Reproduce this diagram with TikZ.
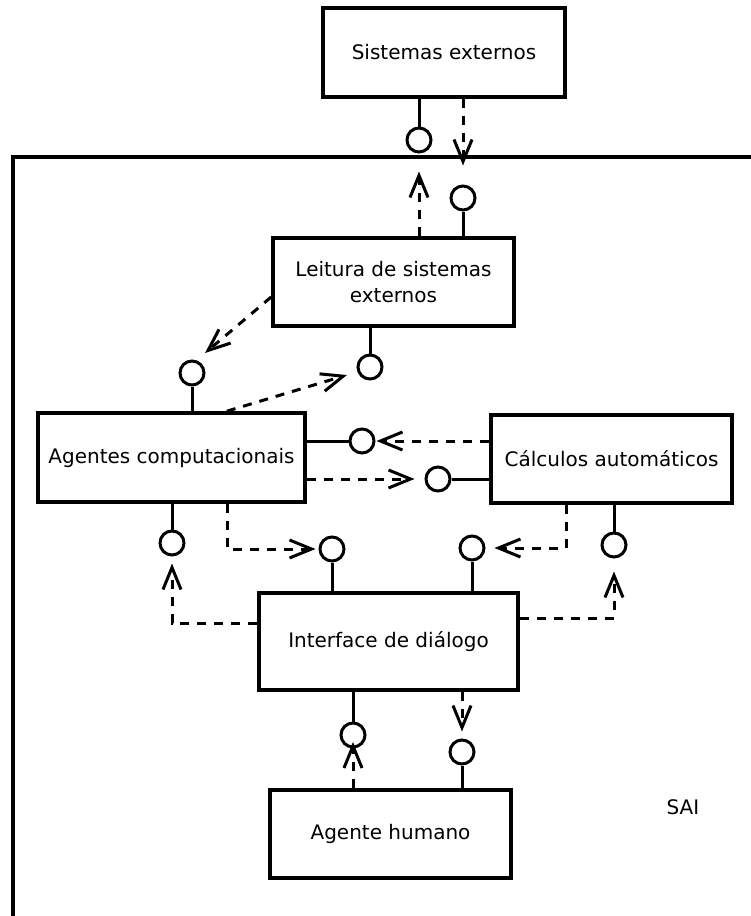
\documentclass[tikz,border=0pt]{standalone}
\usepackage{fontspec}
\setmainfont{DejaVu Sans}
\usetikzlibrary{arrows.meta}
\begin{document}
\begin{tikzpicture}[x=1pt,y=-1pt,
  box/.style={draw,line width=3.6pt,rectangle,align=center,inner sep=0pt,font=\fontsize{20}{26}\selectfont},
  lolli/.style={draw,circle,line width=3pt,minimum size=24pt,inner sep=0pt},
  conn/.style={line width=3pt},
  dep/.style={line width=3pt,dash pattern=on 9pt off 8pt,-{Straight Barb[length=22pt,width=18pt,line width=3pt]}},
  lbl/.style={font=\fontsize{20}{26}\selectfont,inner sep=0pt}]
\useasboundingbox (0,0) rectangle (751,916);
% SAI boundary
\coordinate (bTop) at (751,157);
\coordinate (bCorner) at (13,157);
\coordinate (bBot) at (13,920);
\draw[line width=4pt] (bTop) -- (bCorner) -- (bBot);
\node[lbl] (sai) at (683,807) {SAI};
% boxes
\node[box,minimum width=242pt,minimum height=89pt] (sist) at (444,52.5) {Sistemas externos};
\node[box,minimum width=241pt,minimum height=88pt] (leit) at (393.5,282) {Leitura de sistemas\\externos};
\node[box,minimum width=267pt,minimum height=89pt] (agen) at (171.5,457.5) {Agentes computacionais};
\node[box,minimum width=241pt,minimum height=88pt] (calc) at (611.5,459) {Cálculos automáticos};
\node[box,minimum width=259pt,minimum height=97pt] (intf) at (388.5,641.5) {Interface de diálogo};
\node[box,minimum width=241pt,minimum height=88pt] (hum) at (390.5,834) {Agente humano};
% lollipop circles
\node[lolli] (c1) at (419,140) {};
\node[lolli] (c2) at (463,198) {};
\node[lolli] (c3) at (370,367) {};
\node[lolli] (c4) at (192,373) {};
\node[lolli] (c5) at (362,441) {};
\node[lolli] (c6) at (438,479) {};
\node[lolli] (c7) at (172,543) {};
\node[lolli] (c8) at (332,549) {};
\node[lolli] (c9) at (472,548) {};
\node[lolli] (c10) at (614,545) {};
\node[lolli] (c11) at (353,735) {};
\node[lolli] (c12) at (462,752) {};
% arrow tip coordinates for diagonals
\coordinate (t4) at (205,353);
\coordinate (t3) at (347,375);
% solid lollipop stems
\draw[conn] (c1 |- sist.south) -- (c1.north);
\draw[conn] (c2.south) -- (c2 |- leit.north);
\draw[conn] (c3 |- leit.south) -- (c3.north);
\draw[conn] (c4.south) -- (c4 |- agen.north);
\draw[conn] (agen.east |- c5) -- (c5.west);
\draw[conn] (c6.east) -- (calc.west |- c6);
\draw[conn] (c7 |- agen.south) -- (c7.north);
\draw[conn] (c8.south) -- (c8 |- intf.north);
\draw[conn] (c9.south) -- (c9 |- intf.north);
\draw[conn] (c10 |- calc.south) -- (c10.north);
\draw[conn] (c11 |- intf.south) -- (c11.north);
\draw[conn] (c12.south) -- (c12 |- hum.north);
% dashed dependency arrows
\draw[dep,shorten >=18pt] (c1 |- leit.north) -- (c1.south);
\draw[dep,shorten >=19pt] (c2 |- sist.south) -- (c2.north);
\draw[dep] ([yshift=-15pt]leit.west) -- (t4);
\draw[dep] ([xshift=-80pt]agen.north east) -- (t3);
\draw[dep,shorten >=1pt] (calc.west |- c5) -- (c5.east);
\draw[dep,shorten >=10pt] (agen.east |- c6) -- (c6.west);
\draw[dep,shorten >=7pt] ([yshift=18.5pt]intf.west) -| (c7.south);
\draw[dep,shorten >=3pt] ([xshift=55.5pt]agen.south) |- (c8.west);
\draw[dep,shorten >=9pt] ([xshift=-45.5pt]calc.south) |- (c9.east);
\draw[dep,shorten >=13pt] ([yshift=23.5pt]intf.east) -| (c10.south);
\draw[dep,shorten >=7pt] (c11 |- hum.north) -- (c11.center);
\draw[dep,shorten >=7pt] (c12 |- intf.south) -- (c12.north);
\end{tikzpicture}
\end{document}
